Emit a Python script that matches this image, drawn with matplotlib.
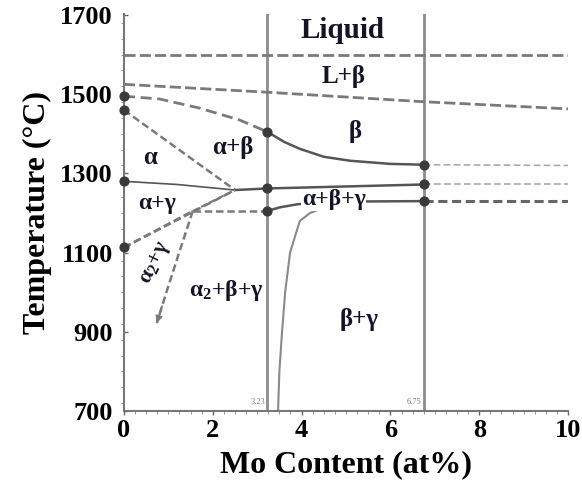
import matplotlib
matplotlib.use("Agg")
import matplotlib.pyplot as plt
from matplotlib.ticker import MultipleLocator

plt.rcParams['font.family'] = ['Liberation Serif', 'DejaVu Serif']
plt.rcParams['font.weight'] = 'bold'
plt.rcParams['axes.labelweight'] = 'bold'
plt.rcParams['mathtext.fontset'] = 'custom'
plt.rcParams['mathtext.rm'] = 'Liberation Serif:bold'
plt.rcParams['mathtext.it'] = 'Liberation Serif:bold'
plt.rcParams['mathtext.default'] = 'rm'

# phase boundaries (Mo at%, temperature C)
liq_x = [0, 10]
liq_T = [1600, 1600]
sol_x = [0, 3.23, 6.75, 10]
sol_T = [1525, 1505, 1481, 1463]
btr_left_x = [0, 0.8, 1.7, 2.6, 3.23]
btr_left_T = [1495, 1488, 1465, 1435, 1405]
btr_right_x = [3.23, 3.6, 3.96, 4.5, 5.09, 6.0, 6.75]
btr_right_T = [1405, 1380, 1362, 1342, 1332, 1324, 1322]
btr_ext_x = [6.75, 10]
btr_ext_T = [1322, 1320]
asolv_x = [0, 2.5]
asolv_T = [1460, 1258]
ag_top_x = [0, 1.2, 2.5]
ag_top_T = [1280, 1272, 1258]
eut_x = [2.5, 3.23, 6.75]
eut_T = [1258, 1262, 1272]
eut_ext_x = [6.75, 10]
eut_ext_T = [1272, 1272]
ag_low_x = [0, 2.5]
ag_low_T = [1113, 1258]
a2g_x = [0, 1.55]
a2g_T = [1113, 1205]
a2g_link_x = [1.55, 2.5]
a2g_link_T = [1205, 1258]
low_left_x = [1.55, 3.23]
low_left_T = [1205, 1205]
low_x = [3.23, 3.5, 3.9, 4.4, 5.2, 6.75]
low_T = [1205, 1214, 1222, 1227, 1229, 1230]
low_ext_x = [6.75, 10]
low_ext_T = [1230, 1230]
bg_x = [3.47, 3.5, 3.56, 3.63, 3.74, 3.96, 4.19, 4.6, 5.2]
bg_T = [700, 800, 900, 1000, 1100, 1180, 1200, 1218, 1226]
arrow_x = [1.55, 1.26, 0.97, 0.74]
arrow_T = [1205, 1106, 1005, 922]

comp_x = [3.23, 6.75]
comp_labels = ['3.23', '6.75']

dot_x = [0, 0, 0, 0, 3.23, 3.23, 3.23, 6.75, 6.75, 6.75]
dot_T = [1495, 1460, 1280, 1113, 1405, 1262, 1205, 1322, 1272, 1230]

fig = plt.figure(figsize=(5.82, 4.91), dpi=100)
ax = fig.add_axes([0.213, 0.163, 0.763, 0.808])

gray = '#7a7a7a'
dark = '#555555'

for xv in comp_x:
    ax.axvline(xv, color='#8c8c8c', lw=2.0, zorder=1)

ax.plot(liq_x, liq_T, color=gray, lw=2, ls=(0, (4, 1.5)))
ax.plot(sol_x, sol_T, color=gray, lw=2, ls=(0, (4, 1.5)))
ax.plot(btr_left_x, btr_left_T, color=gray, lw=2, ls=(0, (4, 2)))
ax.plot(btr_right_x, btr_right_T, color=dark, lw=1.8)
ax.plot(btr_ext_x, btr_ext_T, color='#aaaaaa', lw=1.2, ls=(0, (4, 2)))
ax.plot(asolv_x, asolv_T, color=gray, lw=1.8, ls=(0, (3, 1.5)))
ax.plot(ag_top_x, ag_top_T, color=dark, lw=1.2)
ax.plot(eut_x, eut_T, color=dark, lw=1.8)
ax.plot(eut_ext_x, eut_ext_T, color='#aaaaaa', lw=1.2, ls=(0, (4, 2)))
ax.plot(ag_low_x, ag_low_T, color=gray, lw=1.8, ls=(0, (3, 1.5)))
ax.plot(a2g_x, a2g_T, color=gray, lw=1.8, ls=(0, (3, 1.5)))
ax.plot(a2g_link_x, a2g_link_T, color=gray, lw=1.5, ls=(0, (3, 1.5)))
ax.plot(low_left_x, low_left_T, color=gray, lw=1.8, ls=(0, (3, 1.5)))
ax.plot(low_x, low_T, color=dark, lw=1.8)
ax.plot(low_ext_x, low_ext_T, color='#666666', lw=2.2, ls=(0, (3, 1.5)))
ax.plot(bg_x, bg_T, color='#8a8a8a', lw=1.5)
ax.plot(arrow_x, arrow_T, color=gray, lw=1.8, ls=(0, (3, 1.5)))
ax.annotate('', xy=(arrow_x[-1], arrow_T[-1]), xytext=(arrow_x[-2], arrow_T[-2]),
            arrowprops=dict(arrowstyle='-|>', color=gray, lw=1.2, mutation_scale=10,
                            shrinkA=12, shrinkB=0))

ax.scatter(dot_x, dot_T, s=40, color='#3a3a3a', zorder=5, clip_on=False)

for xv, lab in zip(comp_x, comp_labels):
    ax.text(xv - 0.05, 712, lab, fontsize=6, color='#777777', ha='right', va='bottom',
            fontweight='normal')

tc = '#141428'
ax.text(4.93, 1662, 'Liquid', fontsize=21, ha='center', va='center', color=tc)
ax.text(4.95, 1545, 'L+β', fontsize=18, ha='center', va='center', color=tc)
ax.text(5.2, 1405, 'β', fontsize=18, ha='center', va='center', color=tc)
ax.text(0.6, 1340, 'α', fontsize=18, ha='center', va='center', color=tc)
ax.text(2.45, 1365, 'α+β', fontsize=18, ha='center', va='center', color=tc)
ax.text(0.75, 1225, 'α+γ', fontsize=17, ha='center', va='center', color=tc)
ax.text(4.72, 1233, 'α+β+γ', fontsize=17, ha='center', va='center', color=tc,
        bbox=dict(facecolor='white', edgecolor='none', pad=0.3), zorder=4)
ax.text(0.72, 1075, 'α$_2$+γ', fontsize=16, ha='center', va='center', color=tc,
        rotation=64)
ax.text(2.3, 1005, 'α$_2$+β+γ', fontsize=17, ha='center', va='center', color=tc)
ax.text(5.3, 930, 'β+γ', fontsize=18, ha='center', va='center', color=tc)

ax.set_xlim(0, 10)
ax.set_ylim(700, 1702)
ax.set_xticks([0, 2, 4, 6, 8, 10])
ax.set_yticks([700, 900, 1100, 1300, 1500, 1700])
ax.xaxis.set_minor_locator(MultipleLocator(0.25))
ax.yaxis.set_minor_locator(MultipleLocator(40))
ax.tick_params(axis='both', labelsize=19, length=3, width=1, color='#666666')
ax.tick_params(axis='x', direction='out', pad=3)
ax.tick_params(axis='y', direction='in', pad=8)
ax.tick_params(which='minor', length=2.5, color='#888888')
for s in ['top', 'right']:
    ax.spines[s].set_visible(False)
for s in ['left', 'bottom']:
    ax.spines[s].set_color('#777777')
    ax.spines[s].set_linewidth(1.5)

ax.set_xlabel('Mo Content (at%)', fontsize=23, labelpad=6)
ax.set_ylabel('Temperature (°C)', fontsize=23, labelpad=6)

fig.savefig('out.png', dpi=100)
